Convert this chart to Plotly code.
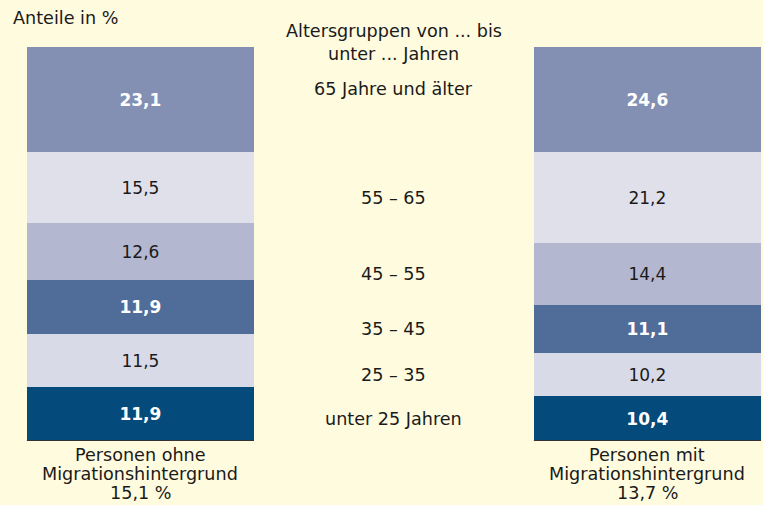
import plotly.graph_objects as go

groups = ["unter 25 Jahren", "25 – 35", "35 – 45", "45 – 55", "55 – 65", "65 Jahre und älter"]
categories = ["ohne", "mit"]
bar_labels = [["Personen ohne", "Migrationshintergrund", "15,1 %"],
              ["Personen mit", "Migrationshintergrund", "13,7 %"]]
ohne = [11.9, 11.5, 11.9, 12.6, 15.5, 23.1]
mit = [10.4, 10.2, 11.1, 14.4, 21.2, 24.6]

colors = ["#044b7b", "#d9dae7", "#506d9a", "#b3b7cf", "#e0e0eb", "#8390b3"]
bold_white = [True, False, True, False, False, True]

FONT = "DejaVu Sans, Verdana, sans-serif"
FS = 17.6
FSV = 17
TXT = "#1a1a1a"
BAR_W = 0.448

fig = go.Figure()
for i, g in enumerate(groups):
    vals = [ohne[i], mit[i]]
    tmpl = "<b>%{text:.1f}</b>" if bold_white[i] else "%{text:.1f}"
    fig.add_trace(go.Bar(
        x=categories, y=vals, text=vals, texttemplate=tmpl,
        name=g, marker=dict(color=colors[i], line=dict(width=0)),
        width=BAR_W, textposition="inside", insidetextanchor="middle",
        textangle=0,
        textfont=dict(family=FONT, size=FSV, color="white" if bold_white[i] else TXT),
        hoverinfo="skip",
    ))

# middle labels at centers of right bar's segments (normalized)
tot = sum(mit)
cum = 0
annotations = []
for i, g in enumerate(groups):
    center = (cum + mit[i] / 2) / tot * 100
    cum += mit[i]
    annotations.append(dict(x=0.5, y=center, xref="x", yref="y", text=g, showarrow=False,
                            yanchor="middle",
                            yshift=11 if i == len(groups) - 1 else 0,
                            font=dict(family=FONT, size=FS, color=TXT)))

annotations.append(dict(x=0.5, y=100, xref="x", yref="y", text="Altersgruppen von ... bis",
                        showarrow=False, yanchor="middle", yshift=16,
                        font=dict(family=FONT, size=FS, color=TXT)))
annotations.append(dict(x=0.5, y=100, xref="x", yref="y", text="unter ... Jahren",
                        showarrow=False, yanchor="middle", yshift=-7,
                        font=dict(family=FONT, size=FS, color=TXT)))
annotations.append(dict(x=11 / 763, y=(441 - 18) / 394, xref="paper", yref="paper", text="Anteile in %",
                        xanchor="left", yanchor="middle", showarrow=False,
                        font=dict(family=FONT, size=FS, color=TXT)))

for ci, lines in enumerate(bar_labels):
    for li, t in enumerate(lines):
        annotations.append(dict(x=ci, y=0, xref="x", yref="y", text=t, showarrow=False,
                                yanchor="middle", yshift=-14 - 19 * li,
                                font=dict(family=FONT, size=FS, color=TXT)))

shapes = []
for ci in range(len(categories)):
    shapes.append(dict(type="line", xref="x", yref="y", x0=ci - BAR_W / 2, x1=ci + BAR_W / 2,
                       y0=0, y1=0, line=dict(color="#333333", width=2)))

fig.update_layout(
    barmode="stack", barnorm="percent",
    width=763, height=505,
    margin=dict(l=0, r=0, t=47, b=64),
    paper_bgcolor="#fffbdf", plot_bgcolor="#fffbdf",
    showlegend=False,
    separators=",.",
    xaxis=dict(range=[-0.277, 1.228], showticklabels=False, showgrid=False, zeroline=False, ticks=""),
    yaxis=dict(range=[0, 100], showticklabels=False, showgrid=False, zeroline=False, ticks=""),
    annotations=annotations, shapes=shapes,
    font=dict(family=FONT, size=FS),
)

fig.write_html("out.html", config={"displayModeBar": False},
               post_script="document.body.style.margin='0';document.body.style.overflow='hidden';")
